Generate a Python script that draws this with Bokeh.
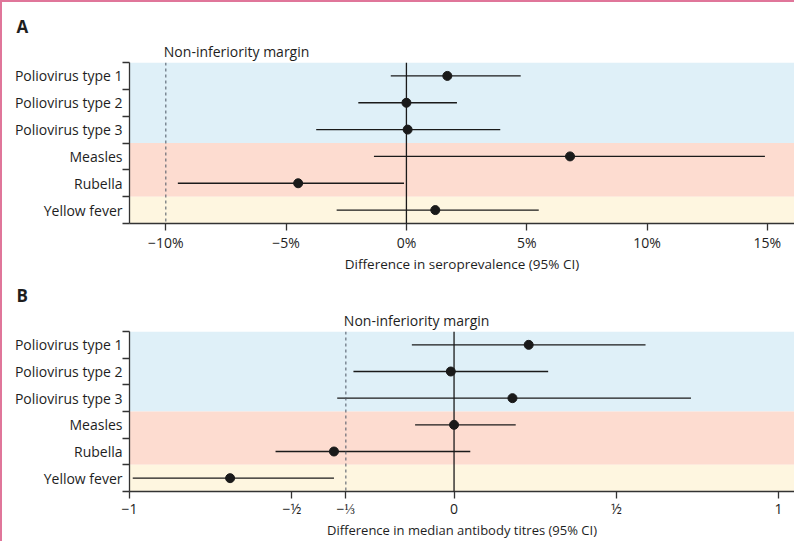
from bokeh.plotting import figure
from bokeh.layouts import column
from bokeh.models import ColumnDataSource, FixedTicker, BoxAnnotation, Span, Range1d, Title
from bokeh.embed import file_html
from bokeh.resources import INLINE

# ---------------- data ----------------
categories = ["Poliovirus type 1", "Poliovirus type 2", "Poliovirus type 3",
              "Measles", "Rubella", "Yellow fever"]
groups = ["polio", "polio", "polio", "mr", "mr", "yf"]

sero_est = [1.7, 0.0, 0.05, 6.8, -4.5, 1.2]
sero_lo = [-0.65, -2.0, -3.75, -1.35, -9.5, -2.9]
sero_hi = [4.75, 2.1, 3.9, 14.9, -0.1, 5.5]
sero_ticks = [-10, -5, 0, 5, 10, 15]
sero_tick_labels = ["−10%", "−5%", "0%", "5%", "10%", "15%"]
sero_margin = -10

titre_est = [0.23, -0.01, 0.18, 0.0, -0.37, -0.69]
titre_lo = [-0.13, -0.31, -0.36, -0.12, -0.55, -0.99]
titre_hi = [0.59, 0.29, 0.73, 0.19, 0.05, -0.37]
titre_ticks = [-1, -0.5, -1 / 3, 0, 0.5, 1]
titre_tick_labels = ["−1", "−½", "−⅓", "0", "½", "1"]
titre_margin = -1 / 3

group_colors = {"polio": "#dff0f8", "mr": "#fddcd0", "yf": "#fef6e0"}

FONT = "Open Sans"
INK = "#1a1a1a"
TEXT = "#1e1e1e"
AXIS = "#333333"
FIG_W = 792
FRAME_L = 127


def panel(letter, est, lo, hi, ticks, tick_labels, margin, xlabel, xr, height,
          top, bottom, tick_standoff, xlabel_size):
    n = len(categories)
    ys = [n - i - 0.5 for i in range(n)]
    p = figure(width=FIG_W, height=height, x_range=Range1d(*xr), y_range=Range1d(0, n),
               output_backend="svg", toolbar_location=None,
               min_border_left=FRAME_L, min_border_right=0,
               min_border_top=top, min_border_bottom=bottom)
    p.outline_line_color = None
    p.grid.visible = False

    # background bands by group
    start = 0
    while start < n:
        end = start
        while end + 1 < n and groups[end + 1] == groups[start]:
            end += 1
        p.add_layout(BoxAnnotation(top=n - start, bottom=n - end - 1,
                                   fill_color=group_colors[groups[start]],
                                   fill_alpha=1, line_alpha=0, level="underlay"))
        start = end + 1

    p.add_layout(Span(location=margin, dimension="height", line_color="#4b5563",
                      line_width=1, line_dash="3 3"))
    p.add_layout(Span(location=0, dimension="height", line_color=INK, line_width=1.3))

    src = ColumnDataSource(dict(y=ys, est=est, lo=lo, hi=hi))
    p.segment(x0="lo", x1="hi", y0="y", y1="y", source=src, line_color=INK, line_width=1.3)
    p.scatter(x="est", y="y", source=src, size=9, color=INK)

    # x axis
    p.xaxis.ticker = FixedTicker(ticks=ticks, minor_ticks=[])
    p.xaxis.major_label_overrides = {t: l for t, l in zip(ticks, tick_labels)}
    p.xaxis.axis_label = xlabel
    p.xaxis.major_tick_out = 7
    p.xaxis.major_tick_in = 0
    p.xaxis.major_label_standoff = tick_standoff
    p.xaxis.axis_label_standoff = 0

    # y axis
    p.yaxis.ticker = FixedTicker(ticks=ys, minor_ticks=list(range(n + 1)))
    p.yaxis.major_label_overrides = {y: c for y, c in zip(ys, categories)}
    p.yaxis.major_tick_out = 0
    p.yaxis.major_tick_in = 0
    p.yaxis.minor_tick_out = 7
    p.yaxis.minor_tick_in = 0
    p.yaxis.major_label_standoff = 0

    for ax in (p.xaxis, p.yaxis):
        ax.axis_line_color = AXIS
        ax.axis_line_width = 1.3
        ax.major_tick_line_color = AXIS
        ax.major_tick_line_width = 1.3
        ax.minor_tick_line_color = AXIS
        ax.minor_tick_line_width = 1.3
        ax.major_label_text_font = FONT
        ax.major_label_text_font_size = "14px"
        ax.major_label_text_color = TEXT
        ax.axis_label_text_font = FONT
        ax.axis_label_text_font_size = xlabel_size
        ax.axis_label_text_font_style = "normal"
        ax.axis_label_text_color = TEXT

    # label for the margin line, positioned from the x scale
    frame_w = FIG_W - FRAME_L
    margin_px = (margin - xr[0]) / (xr[1] - xr[0]) * frame_w
    p.add_layout(Title(text="Non-inferiority margin", align="left", offset=margin_px - 2,
                       standoff=4, vertical_align="bottom", text_font=FONT,
                       text_font_size="14px", text_font_style="normal",
                       text_color=TEXT), "above")
    p.add_layout(Title(text=letter, align="left", offset=14 - FRAME_L,
                       standoff=0, vertical_align="bottom", text_font=FONT,
                       text_font_size="17px", text_font_style="bold",
                       text_color=TEXT), "above")
    return p


f1 = panel("A", sero_est, sero_lo, sero_hi, sero_ticks, sero_tick_labels, sero_margin,
           "Difference in seroprevalence (95% CI)", (-11.51, 16.13), 273, 60, 51,
           2, "13.5px")
f2 = panel("B", titre_est, titre_lo, titre_hi, titre_ticks, titre_tick_labels, titre_margin,
           "Difference in median antibody titres (95% CI)", (-1.0, 1.049), 266, 56, 47,
           0, "13px")

layout = column(f1, f2, spacing=0,
                styles={"border-left": "2px solid #e0769a", "border-top": "2px solid #e0769a"})

open("out.html", "w").write(file_html(layout, INLINE))
